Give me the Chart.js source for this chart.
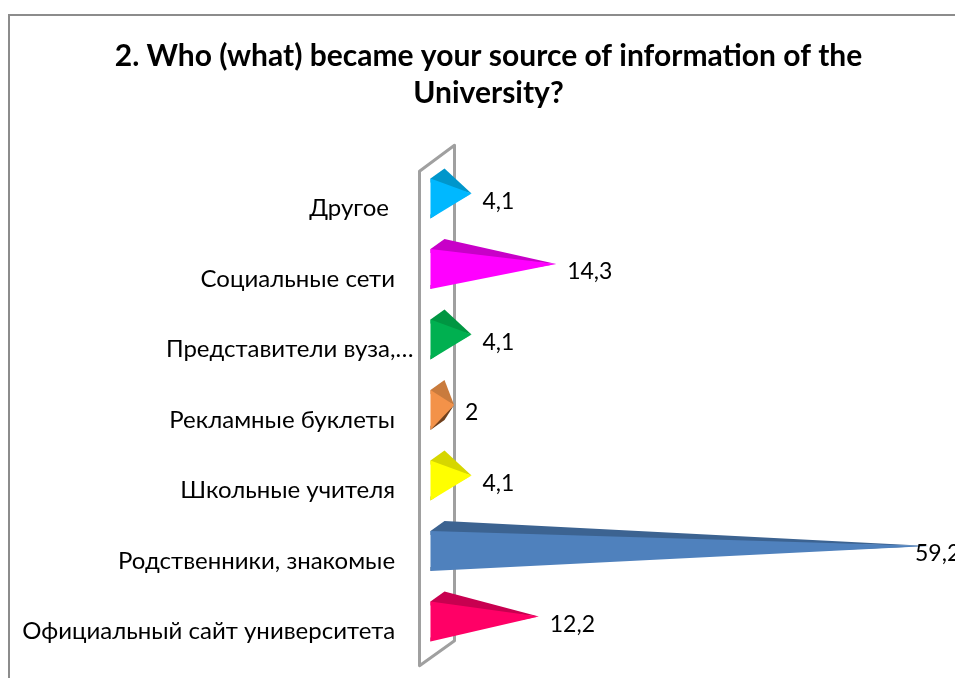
<!DOCTYPE html>
<html>
<head>
<meta charset="utf-8">
<title>Source of information</title>
<script src="https://cdn.jsdelivr.net/npm/chart.js@4"></script>
<style>
  html, body { margin: 0; height: 100%; background: #fff; overflow: hidden; }
  #frame { position: absolute; left: 8px; top: 14px; width: 1000px; height: 800px; border: 2px solid #8c8c8c; }
  canvas { display: block; }
</style>
</head>
<body>
<div id="frame"><canvas id="chart" width="960" height="690"></canvas></div>
<script>
const titleLines = ["2. Who (what) became your source of information of the", "University?"];

// Trailing spaces are in the original labels, they push the text away from the wall
const categories = [
  "Другое    ",
  "Социальные сети   ",
  "Представители вуза,…",
  "Рекламные буклеты   ",
  "Школьные учителя   ",
  "Родственники, знакомые   ",
  "Официальный сайт университета   ",
];
const values = [4.1, 14.3, 4.1, 2, 4.1, 59.2, 12.2];
const valueLabels = ["4,1", "14,3", "4,1", "2", "4,1", "59,2", "12,2"];

const frontColors = ["#00b8ff", "#ff00ff", "#00b050", "#f39249", "#ffff00", "#4f81bd", "#ff0066"];
const topColors = ["#0096cb", "#c800c8", "#009642", "#c97b3d", "#d6d600", "#3c6391", "#c80050"];
const bottomColors = ["#006f96", "#960096", "#006e30", "#70401c", "#9e9e00", "#2c4a6e", "#96003c"];

const FONT = "Lato, Carlito, Calibri, sans-serif";
const DEPTH_X = 7; // half the bar depth, to the right
const DEPTH_Y = 5; // half the bar depth, upwards

// Back wall and 3D pyramids, both placed from the chart's own scales
const pyramids = {
  id: "pyramids",
  beforeDatasetDraw(chart) {
    const { ctx, chartArea, scales } = chart;
    const zero = scales.x.getPixelForValue(0);

    ctx.save();
    ctx.strokeStyle = "#a0a0a0";
    ctx.lineWidth = 3;
    ctx.lineJoin = "round";
    ctx.beginPath();
    ctx.moveTo(zero - 18, chartArea.top + 13);
    ctx.lineTo(zero + 17, chartArea.top - 13);
    ctx.lineTo(zero + 17, chartArea.bottom - 11);
    ctx.lineTo(zero - 18, chartArea.bottom + 14);
    ctx.closePath();
    ctx.stroke();

    chart.getDatasetMeta(0).data.forEach((bar, i) => {
      const x0 = bar.base - DEPTH_X;
      const x1 = bar.base + DEPTH_X;
      const top = bar.y + DEPTH_Y - bar.height / 2;
      const bottom = bar.y + DEPTH_Y + bar.height / 2;
      const face = (color, points) => {
        ctx.fillStyle = color;
        ctx.beginPath();
        points.forEach(([x, y], n) => (n ? ctx.lineTo(x, y) : ctx.moveTo(x, y)));
        ctx.closePath();
        ctx.fill();
      };
      // side faces run a little under the front one so no light seam shows
      face(bottomColors[i], [[x0, bottom], [x1, bottom - 2 * DEPTH_Y], [bar.x, bar.y], [x0, bottom - 4]]);
      face(topColors[i], [[x0, top], [x1, top - 2 * DEPTH_Y], [bar.x, bar.y], [x0, top + 4]]);
      face(bar.options.backgroundColor, [[x0, top], [x0, bottom], [bar.x, bar.y]]);
    });
    ctx.restore();
    return false;
  },
  afterDatasetsDraw(chart) {
    const { ctx } = chart;
    ctx.save();
    ctx.fillStyle = "#000";
    ctx.font = "23px " + FONT;
    ctx.textAlign = "left";
    ctx.textBaseline = "middle";
    chart.getDatasetMeta(0).data.forEach((bar, i) => {
      // the longest bar runs out of room, its label sits on the tip
      ctx.fillText(valueLabels[i], Math.min(bar.x + 11, 905), bar.y + 8);
    });
    ctx.restore();
  },
};

new Chart(document.getElementById("chart"), {
  type: "bar",
  data: {
    labels: categories,
    datasets: [{
      data: values,
      backgroundColor: frontColors,
      barPercentage: 1,
      categoryPercentage: 0.567,
    }],
  },
  plugins: [pyramids],
  options: {
    indexAxis: "y",
    responsive: false,
    animation: false,
    layout: { padding: { left: 0, right: 2.96, top: 0, bottom: 54.25 } },
    scales: {
      x: { display: false, min: 0, max: 63.8 },
      y: {
        grid: { display: false, drawTicks: false },
        border: { display: false },
        afterFit(scale) { scale.width = 427.5; },
        ticks: {
          autoSkip: false,
          color: "#000",
          font: { family: FONT, size: 24 },
          padding: 24,
          labelOffset: 15,
        },
      },
    },
    plugins: {
      legend: { display: false },
      tooltip: { enabled: false },
      title: {
        display: true,
        text: titleLines,
        color: "#000",
        font: { family: FONT, size: 30, weight: "bold", lineHeight: 1.233 },
        padding: { top: 21.5, bottom: 46.75 },
      },
    },
  },
});
</script>
</body>
</html>
